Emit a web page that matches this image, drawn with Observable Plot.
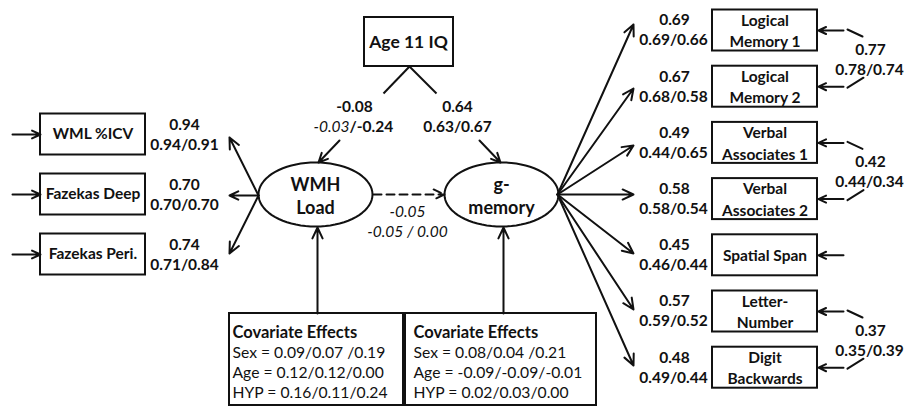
<!DOCTYPE html>
<html><head><meta charset="utf-8">
<script src="https://cdn.jsdelivr.net/npm/d3@7"></script>
<script src="https://cdn.jsdelivr.net/npm/@observablehq/plot@0.6"></script>
<style>body{margin:0;background:#fff} svg{display:block}</style>
</head><body><div id="chart"></div>
<script>
// ---------------- data ----------------
const wmhIndicators = ["WML %ICV", "Fazekas Deep", "Fazekas Peri."];
const wmhLoadings = ["0.94", "0.70", "0.74"];
const wmhLoadingsByGroup = ["0.94/0.91", "0.70/0.70", "0.71/0.84"];
const memIndicators = ["Logical\nMemory 1", "Logical\nMemory 2", "Verbal\nAssociates 1", "Verbal\nAssociates 2", "Spatial Span", "Letter-\nNumber", "Digit\nBackwards"];
const memLoadings = ["0.69", "0.67", "0.49", "0.58", "0.45", "0.57", "0.48"];
const memLoadingsByGroup = ["0.69/0.66", "0.68/0.58", "0.44/0.65", "0.58/0.54", "0.46/0.44", "0.59/0.52", "0.49/0.44"];
const residualPairs = [[0, 1], [2, 3], [5, 6]];
const residualCorr = ["0.77", "0.42", "0.37"];
const residualCorrByGroup = ["0.78/0.74", "0.44/0.34", "0.35/0.39"];
const latentNames = ["WMH\nLoad", "g-\nmemory"];
const predictorName = "Age 11 IQ";
const iqPaths = ["-0.08", "0.64"];
const iqToWmhByGroup = ["-0.03", "/-0.24"];
const iqToMemoryByGroup = "0.63/0.67";
const wmhToMemory = "-0.05";
const wmhToMemoryByGroup = "-0.05 / 0.00";
const covariateTitle = "Covariate Effects";
const covariatesWmh = ["Sex = 0.09/0.07 /0.19", "Age = 0.12/0.12/0.00", "HYP = 0.16/0.11/0.24"];
const covariatesMemory = ["Sex = 0.08/0.04 /0.21", "Age = -0.09/-0.09/-0.01", "HYP = 0.02/0.03/0.00"];

// ---------------- layout (pixel space) ----------------
const W = 907, H = 407;
const leftBox = {x1: 40, x2: 145, h: 41, ys: [134, 194, 254]};
const rightBox = {x1: 712, x2: 817, h: 41, y0: 30, dy: 56.2};
const rightY = i => rightBox.y0 + i * rightBox.dy;
const rightTips = [24, 88, 145, 194, 253, 309, 365];
const lat = [{cx: 315, cy: 194, rx: 57, ry: 32}, {cx: 501, cy: 194, rx: 57, ry: 32}];
const iqBox = {x1: 364, x2: 453, y1: 17, y2: 66};
const covBoxes = [{x1: 229, x2: 403, tx: 232}, {x1: 405, x2: 596, tx: 413}];
const covTop = 313, covBottom = 405;

function ellipsePts(e, k) {
  const pts = [];
  for (let i = 0; i <= 72; i++) {
    const t = (i / 72) * 2 * Math.PI;
    pts.push({x: e.cx + e.rx * Math.cos(t), y: e.cy + e.ry * Math.sin(t), k});
  }
  return pts;
}
// split a multi-line label into one row per line around a centre
function splitLines(text, x, cy, gap) {
  const lines = text.split("\n");
  return lines.map((t, j) => ({x, y: cy + (j - (lines.length - 1) / 2) * gap, t}));
}

const rects = [
  ...wmhIndicators.map((n, i) => ({x1: leftBox.x1, x2: leftBox.x2, y1: leftBox.ys[i] - leftBox.h / 2, y2: leftBox.ys[i] + leftBox.h / 2})),
  ...memIndicators.map((n, i) => ({x1: rightBox.x1, x2: rightBox.x2, y1: rightY(i) - rightBox.h / 2, y2: rightY(i) + rightBox.h / 2})),
  {x1: iqBox.x1, x2: iqBox.x2, y1: iqBox.y1, y2: iqBox.y2},
  ...covBoxes.map(b => ({x1: b.x1, x2: b.x2, y1: covTop, y2: covBottom}))
];

const arrows = [
  ...leftBox.ys.map(y => ({x1: 12, y1: y, x2: leftBox.x1, y2: y})),
  ...leftBox.ys.map((y, i) => ({x1: 258, y1: 195, x2: 229, y2: [137, 195, 253][i]})),
  ...rightTips.map(t => ({x1: 557, y1: 194, x2: 633, y2: t})),
  ...memIndicators.map((n, i) => ({x1: 843, y1: rightY(i), x2: rightBox.x2 + 1, y2: rightY(i)})),
  {x1: 339, y1: 140, x2: 318, y2: 162},
  {x1: 479, y1: 140, x2: 500, y2: 162},
  {x1: 317, y1: covTop, x2: 317, y2: 227},
  {x1: 503, y1: covTop, x2: 503, y2: 227}
];
const curved = residualPairs.flatMap(([a, b]) => [
  {x1: 862, y1: rightY(a) + 6, x2: 847, y2: rightY(a) - 1, bend: 10},
  {x1: 863, y1: rightY(b) - 9, x2: 847, y2: rightY(b) + 1, bend: -10}
]);
const plainLines = [
  {x1: 409, y1: iqBox.y2, x2: 383, y2: 93},
  {x1: 409, y1: iqBox.y2, x2: 436, y2: 93}
];

const boldLabels = [
  ...wmhLoadings.map((t, i) => ({x: 184, y: leftBox.ys[i] - 9, t})),
  ...wmhLoadingsByGroup.map((t, i) => ({x: 184, y: leftBox.ys[i] + 11, t})),
  ...memLoadings.map((t, i) => ({x: 674, y: rightY(i) - 10, t})),
  ...memLoadingsByGroup.map((t, i) => ({x: 673, y: rightY(i) + 10, t})),
  ...residualPairs.map(([a, b], i) => ({x: 870, y: (rightY(a) + rightY(b)) / 2 - 9, t: residualCorr[i]})),
  ...residualPairs.map(([a, b], i) => ({x: 869, y: (rightY(a) + rightY(b)) / 2 + 11, t: residualCorrByGroup[i]})),
  {x: 354, y: 107, t: iqPaths[0]},
  {x: 457, y: 107, t: iqPaths[1]},
  {x: 457, y: 127, t: iqToMemoryByGroup}
];
const boxLabels = [
  ...wmhIndicators.flatMap((t, i) => splitLines(t, (leftBox.x1 + leftBox.x2) / 2, leftBox.ys[i], 21)),
  ...memIndicators.flatMap((t, i) => splitLines(t, (rightBox.x1 + rightBox.x2) / 2, rightY(i) + 1, 21.5))
];
const latentLabels = latentNames.flatMap((t, i) => splitLines(t, lat[i].cx, lat[i].cy + 2, 22.5));
const covTexts = [covariatesWmh, covariatesMemory].flatMap((lines, b) =>
  lines.map((t, j) => ({x: covBoxes[b].tx, y: 352 + j * 20.3, t})));

const FONT = "Lato";
const INK = "#111";
const chart = Plot.plot({
  width: W, height: H, margin: 0,
  x: {domain: [0, W], range: [0, W], axis: null},
  y: {domain: [0, H], range: [0, H], axis: null},
  style: {fontFamily: FONT, background: "#fff"},
  marks: [
    Plot.link(plainLines, {x1: "x1", y1: "y1", x2: "x2", y2: "y2", stroke: INK, strokeWidth: 2}),
    Plot.rect(rects, {x1: "x1", x2: "x2", y1: "y1", y2: "y2", fill: "#fff", stroke: INK, strokeWidth: 2}),
    Plot.line([...ellipsePts(lat[0], "a"), ...ellipsePts(lat[1], "b")], {x: "x", y: "y", z: "k", fill: "#fff", stroke: INK, strokeWidth: 2, curve: "linear-closed"}),
    Plot.arrow(arrows, {x1: "x1", y1: "y1", x2: "x2", y2: "y2", stroke: INK, strokeWidth: 2, headLength: 9, headAngle: 50}),
    Plot.arrow([{x1: 373, y1: 194, x2: 444, y2: 194}], {x1: "x1", y1: "y1", x2: "x2", y2: "y2", stroke: INK, strokeWidth: 2, strokeDasharray: "8,5", headLength: 9, headAngle: 50}),
    Plot.arrow(curved, {x1: "x1", y1: "y1", x2: "x2", y2: "y2", bend: d => d.bend, stroke: INK, strokeWidth: 2, headLength: 7, headAngle: 60}),
    Plot.text(boldLabels, {x: "x", y: "y", text: "t", fontSize: 15.5, fontWeight: "bold", fill: INK}),
    Plot.text(boxLabels, {x: "x", y: "y", text: "t", fontSize: 15.5, fontWeight: "bold", fill: INK}),
    Plot.text([predictorName], {x: 408, y: 42, text: d => d, fontSize: 17.5, fontWeight: "bold", fill: INK}),
    Plot.text(latentLabels, {x: "x", y: "y", text: "t", fontSize: 18, fontWeight: "bold", fill: INK}),
    Plot.text([iqToWmhByGroup[0]], {x: 349, y: 127, text: d => d, textAnchor: "end", fontSize: 15.5, fontStyle: "italic", fill: INK}),
    Plot.text([iqToWmhByGroup[1]], {x: 349, y: 127, text: d => d, textAnchor: "start", fontSize: 15.5, fontWeight: "bold", fill: INK}),
    Plot.text([wmhToMemory, wmhToMemoryByGroup], {x: 407, y: (d, i) => 212 + i * 20, text: d => d, fontSize: 15.5, fontStyle: "italic", fill: INK}),
    Plot.text(covBoxes, {x: "tx", y: 332, text: () => covariateTitle, textAnchor: "start", fontSize: 16.5, fontWeight: "bold", fill: INK}),
    Plot.text(covTexts, {x: "x", y: "y", text: "t", textAnchor: "start", fontSize: 15.7, fill: INK})
  ]
});
document.getElementById("chart").appendChild(chart);
</script>
</body></html>
